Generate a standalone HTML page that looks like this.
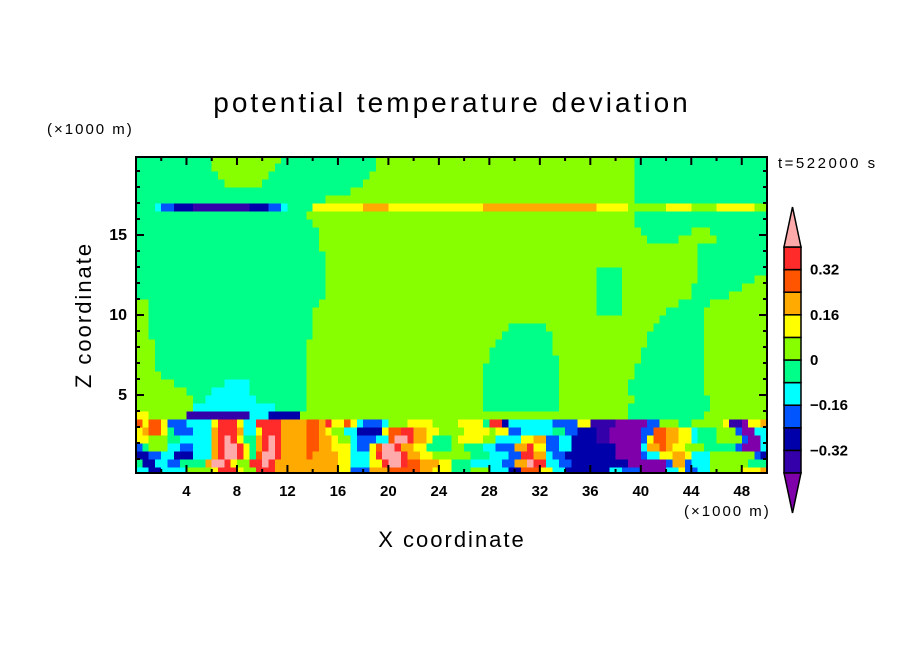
<!DOCTYPE html>
<html><head><meta charset="utf-8"><title>potential temperature deviation</title>
<style>
html,body{margin:0;padding:0;background:#fff;}
svg{display:block;font-family:"Liberation Sans",sans-serif;}
</style></head>
<body>
<svg id="chart" width="904" height="654" viewBox="0 0 904 654">
  <rect x="0" y="0" width="904" height="654" fill="#fff"/>
  <defs><clipPath id="pc"><rect x="136" y="157" width="631" height="316"/></clipPath></defs>
  <g id="cells" clip-path="url(#pc)" shape-rendering="crispEdges"></g>
  <rect x="136" y="157" width="631" height="316" fill="none" stroke="#000" stroke-width="2"/>
  <g id="ticks"></g>
  <text x="452" y="112" font-size="28" text-anchor="middle" letter-spacing="3">potential temperature deviation</text>
  <text x="47" y="134" font-size="15" letter-spacing="2">(×1000 m)</text>
  <text x="778" y="168" font-size="15" letter-spacing="2.5">t=522000 s</text>
  <text x="684" y="516" font-size="15" letter-spacing="2">(×1000 m)</text>
  <text x="452" y="547" font-size="22" text-anchor="middle" letter-spacing="2">X coordinate</text>
  <text x="91" y="315" font-size="22" text-anchor="middle" letter-spacing="2" transform="rotate(-90 91 315)">Z coordinate</text>
  <g id="cbar"></g>
</svg>
<script>
// ---- data ----
const levelCodes = ["P","I","D","B","C","G","L","Y","O","R","r","K"];
const levelColors = ["#7f00aa","#3300aa","#0000aa","#0055ff","#00ffff","#00ff88","#88ff00","#ffff00","#ffaa00","#ff5500","#ff2a2a","#ffaaaa"];
const cbarLabels = ["0.32","0.16","0","-0.16","-0.32"];
const cbarLabelValues = [0.32,0.16,0,-0.16,-0.32];
const xTickValues = [4,8,12,16,20,24,28,32,36,40,44,48];
const yTickValues = [5,10,15];
const cellKm = 0.5;
// rows from z=0 upward, run-length encoded (code + count of 0.5 km columns)
const gridRows = [
"C2D2C4L4Y1r3Y1L2r3O3O7Y2B3O3R5O2Y3G3L3C3D2R3Y2C2D7C2B3P4C2Y1B2C2L5Y3O1",
"G1D2C2B2G4O1K2r1Y1L2r2K1r1O3O7Y2C3Y2r1K2r1R2O3Y2G3C5B2O2K1r2C2B2D6D3P6B1O2B1C3L6G3",
"D2B2C2D3C3O1r1K2r1Y1G1R1K2r1O2O2R1O4Y2C3Y1r1K3r1O2Y2L3L3G3C3B2r2O2C1B2D7D1P4B1C2Y2O2Y1C3L7B1D1",
"B1G1L3C2B2C3O1r1K2r1Y1G1O1r1K1r1O2O2R2O2Y3C1B2Y1R1K2r1O2Y2G4L2G3C2B3O2r1Y2B2C2D6D1P4C1O2R1O1Y2L3G5B1P3C1",
"Y2L3G2C5O1r1K1r1Y1G2O1r1K1r1O2O2R2O2Y1L2C1B3C2R1K2r1O2Y1G3L1Y4L2C4Y2O2B2C2D4I2P5B1Y1R2O2Y2C1G3L4B1P2C1",
"Y1O1R2Y1G1B3C3O1r3O1C2Y1r3O2O2R2O1Y1L2C2D4Y1R2r2O2Y2L2L2Y4L1Y2B2C5G2B2D3I2P5B2R2O2Y2C1G3L3B1P2C2",
"R1Y1R2Y1B3C4Y1r3Y1C2r4O2O2R2O1r1Y2R1Y1C1B3C1L3Y4L3L1Y4G1r2D1C7B4Y2I3I1P5B2L3G2L5Y1I2P1Y2O1",
"Y2L6I10C3D5L52G12L10",
"L9C13G5L28G12L11G13L9",
"L9G2C8G8L28G12L12G12L9",
"L8G4C6G9L28G12L11G12L10",
"L6G8C4G9L28G12L11G12L10",
"L4G23L28G12L12G11L10",
"L3G24L28G12L12G11L10",
"L3G24L29G11L13G10L10",
"L3G24L29G10L14G10L10",
"L3G24L30G9L15G9L10",
"L2G26L30G8L15G9L10",
"L2G26L31G6L17G8L10",
"L2G26L55G7L10",
"L2G26L45G4L7G6L10",
"L2G27L44G4L9G5L9",
"G30L43G4L11G6L6",
"G30L43G4L11G8L4",
"G30L43G4L12G9L2",
"G30L43G4L12G11",
"G30L59G11",
"G30L59G11",
"G29L60G11",
"G29L52G5L6G8",
"G29L51G8L3G9",
"G28L51G21",
"G27L52G21",
"G3C1B2D3I9D3B2C1G4Y8O4Y15O18Y5L6Y4L4Y6L2",
"G30L49G21",
"G34L45G21",
"G14L6G16L43G21",
"G13L8G16L42G21",
"G12L10G16L41G21",
"G12L11G15L41G21"
];
// ---- axes ----
const X0=136, X1=767, XMAX=50;
function xs(km){return X0+(km/XMAX)*(X1-X0);}
function ys(z){return 475-16*z;}
const NS="http://www.w3.org/2000/svg";
function mk(tag,attrs,parent){const e=document.createElementNS(NS,tag);for(const k in attrs)e.setAttribute(k,attrs[k]);parent.appendChild(e);return e;}
const cells=document.getElementById('cells');
gridRows.forEach((row,ri)=>{
  const re=/([A-Za-z])(\d+)/g;let m;let col=0;
  const zb=ri*cellKm, zt=zb+cellKm;
  while((m=re.exec(row))){
    const code=m[1], n=parseInt(m[2],10);
    const idx=levelCodes.indexOf(code);
    const x0=xs(col*cellKm), x1=xs((col+n)*cellKm);
    const r=mk('rect',{x:x0.toFixed(2),y:ys(zt).toFixed(2),width:(x1-x0+0.6).toFixed(2),height:(ys(zb)-ys(zt)+0.6).toFixed(2),fill:levelColors[idx]},cells);
    
    
    col+=n;
  }
});
// ticks
const tk=document.getElementById('ticks');
for(let km=2;km<50;km+=2){
  const major=(km%4===0);const L=major?8:4;const x=xs(km);
  const a=mk('line',{x1:x,y1:473,x2:x,y2:473-L,stroke:'#000','stroke-width':2},tk);
  
  
  const b=mk('line',{x1:x,y1:157,x2:x,y2:157+L,stroke:'#000','stroke-width':2},tk);
  
  
}
xTickValues.forEach(v=>{
  const t=mk('text',{x:xs(v),y:496,'font-size':15,'font-weight':'bold','text-anchor':'middle'},tk);t.textContent=String(v);
  
  
});
for(let z=1;z<20;z++){
  const major=(z%5===0);const L=major?8:4;const y=ys(z);
  const a=mk('line',{x1:136,y1:y,x2:136+L,y2:y,stroke:'#000','stroke-width':2},tk);
  
  
  const b=mk('line',{x1:767,y1:y,x2:767-L,y2:y,stroke:'#000','stroke-width':2},tk);
  
  
}
yTickValues.forEach(v=>{
  const t=mk('text',{x:127,y:ys(v)+5,'font-size':16,'font-weight':'bold','text-anchor':'end'},tk);t.textContent=String(v);
  
  
});
// colorbar
const cb=document.getElementById('cbar');
const CX0=784, CX1=801, CTOP=247, CBOT=473, NBOX=10, BH=(CBOT-CTOP)/NBOX;
const VMIN=-0.40, VMAX=0.40;
function cy(v){return CBOT-(v-VMIN)/(VMAX-VMIN)*(CBOT-CTOP);}
for(let i=0;i<NBOX;i++){
  const r=mk('rect',{x:CX0,y:CBOT-(i+1)*BH,width:CX1-CX0,height:BH,fill:levelColors[i+1],stroke:'#000','stroke-width':1.5},cb);
  
  
}
const tt=mk('polygon',{points:`${CX0},${CTOP} ${CX1},${CTOP} ${(CX0+CX1)/2},207`,fill:levelColors[11],stroke:'#000','stroke-width':1.5},cb);


const bt=mk('polygon',{points:`${CX0},${CBOT} ${CX1},${CBOT} ${(CX0+CX1)/2},513`,fill:levelColors[0],stroke:'#000','stroke-width':1.5},cb);


cbarLabels.forEach((s,i)=>{
  const t=mk('text',{x:810,y:cy(cbarLabelValues[i])+5,'font-size':15,'font-weight':'bold'},cb);t.textContent=s.replace('-','\u2212');
  
  
});
</script>
</body></html>
